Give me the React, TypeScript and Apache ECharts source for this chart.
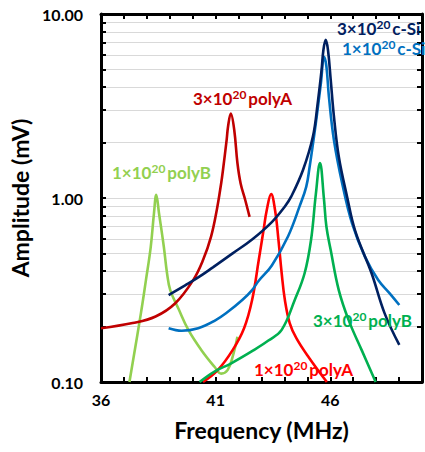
import React, { useEffect, useRef } from 'react';
import * as echarts from 'echarts';

// Axis ticks / labels
const xTickLabels = [36, 41, 46];
const yLabelValues = [0.1, 1, 10];
const yTickValues = [0.1, 0.2, 0.3, 0.4, 0.5, 0.6, 0.7, 0.8, 0.9, 1, 2, 3, 4, 5, 6, 7, 8, 9, 10];

// 1x10^20 polyB (light green)
const polyB1Freq = [37.24, 37.74, 37.96, 38.17, 38.31, 38.41, 38.53, 38.74, 38.88, 39.02, 39.38, 39.81, 40.38, 40.95, 41.24, 41.52, 41.74, 41.95];
const polyB1Amp = [0.1, 0.236, 0.358, 0.543, 0.826, 1.04, 0.826, 0.543, 0.39, 0.316, 0.25, 0.192, 0.149, 0.121, 0.111, 0.116, 0.137, 0.176];

// 3x10^20 polyA (dark red)
const polyA3Freq = [36.0, 37.38, 38.38, 39.24, 40.02, 40.45, 40.8, 41.05, 41.24, 41.32, 41.48, 41.54, 41.66, 41.81, 41.95, 42.09, 42.29, 42.48];
const polyA3Amp = [0.196, 0.209, 0.227, 0.268, 0.358, 0.46, 0.617, 0.861, 1.2, 1.42, 2.07, 2.44, 2.88, 2.35, 1.55, 1.2, 0.975, 0.79];

// 1x10^20 polyA (red)
const polyA1Freq = [40.45, 41.09, 41.74, 42.24, 42.59, 42.88, 43.09, 43.23, 43.42, 43.59, 43.74, 43.88, 44.02, 44.23, 44.52, 45.08, 45.85];
const polyA1Amp = [0.1, 0.116, 0.149, 0.196, 0.279, 0.46, 0.67, 0.861, 1.05, 0.861, 0.591, 0.39, 0.279, 0.209, 0.173, 0.135, 0.1];

// 1x10^20 c-Si (blue)
const cSi1Freq = [38.95, 39.52, 40.24, 40.95, 41.52, 42.16, 42.59, 42.88, 43.45, 44.16, 44.66, 44.95, 45.09, 45.37, 45.59, 45.73, 45.83, 45.94, 46.16, 46.52, 46.95, 47.51, 48.09, 48.59, 49.01];
const cSi1Amp = [0.196, 0.19, 0.196, 0.215, 0.24, 0.279, 0.316, 0.355, 0.43, 0.62, 0.9, 1.15, 1.45, 2.55, 4.2, 5.86, 5.2, 3.56, 2.06, 1.2, 0.728, 0.48, 0.358, 0.303, 0.262];

// 3x10^20 c-Si (navy)
const cSi3Freq = [38.95, 39.67, 40.24, 40.88, 41.74, 42.59, 43.45, 44.02, 44.3, 44.81, 45.24, 45.45, 45.62, 45.7, 45.8, 45.9, 46.02, 46.16, 46.37, 46.73, 47.09, 47.8, 48.37, 49.01];
const cSi3Amp = [0.297, 0.335, 0.37, 0.42, 0.5, 0.595, 0.74, 0.9, 1.02, 1.42, 2.15, 3.27, 4.97, 6.37, 7.23, 6.37, 4.37, 2.77, 1.68, 1.02, 0.66, 0.39, 0.236, 0.159];

// 3x10^20 polyB (green)
const polyB3Freq = [40.3, 40.95, 41.66, 42.66, 43.3, 43.88, 44.45, 44.88, 45.16, 45.37, 45.55, 45.72, 45.83, 46.02, 46.37, 46.8, 47.37, 47.98];
const polyB3Amp = [0.1, 0.114, 0.126, 0.149, 0.168, 0.192, 0.279, 0.39, 0.591, 1.05, 1.55, 1.0, 0.7, 0.52, 0.316, 0.217, 0.149, 0.1];

const FONT = 'Lato';

function zip(xs: number[], ys: number[]) {
  return xs.map((x, i) => [x, ys[i]]);
}

function label(prefix: string, suffix: string, color: string, left: number, top: number) {
  return {
    type: 'text',
    left,
    top,
    z: 10,
    style: {
      text: `{a|${prefix}}{s|20}{a|${suffix}}`,
      fill: color,
      rich: {
        a: { fontSize: 17, fontWeight: 'bold', fontFamily: FONT, fill: color, lineHeight: 20 },
        s: { fontSize: 12, fontWeight: 'bold', fontFamily: FONT, fill: color, lineHeight: 12, verticalAlign: 'top', padding: [0, 2, 0, 0] },
      },
    },
  };
}

export default function App() {
  const ref = useRef<HTMLDivElement>(null);
  useEffect(() => {
    const chart = echarts.init(ref.current!, null, { renderer: 'svg' });
    const axisTextStyle = { fontFamily: FONT, fontWeight: 'bold', fontSize: 16, color: '#000' };
    const titleStyle = { fontFamily: FONT, fontWeight: 'bold', fontSize: 23, color: '#000' };
    const mkSeries = (name: string, xs: number[], ys: number[], color: string) => ({
      name,
      type: 'line',
      data: zip(xs, ys),
      showSymbol: false,
      symbol: 'none',
      smooth: 0.4,
      lineStyle: { color, width: 2.6 },
      itemStyle: { color },
      xAxisIndex: 0,
      yAxisIndex: 0,
    });
    chart.setOption({
      animation: false,
      backgroundColor: '#fff',
      grid: { left: 101, top: 14, right: -3, bottom: 70 },
      xAxis: [
        {
          type: 'value',
          position: 'bottom',
          min: 36,
          max: 50,
          interval: 1,
          axisLine: { onZero: false, lineStyle: { color: '#000', width: 3 } },
          axisTick: { inside: true, length: 5, lineStyle: { color: '#000', width: 2 } },
          axisLabel: {
            ...axisTextStyle,
            margin: 9,
            formatter: (v: number) => (xTickLabels.includes(v) ? String(v) : ''),
          },
          splitLine: { show: false },
          name: 'Frequency (MHz)',
          nameLocation: 'middle',
          nameGap: 36,
          nameTextStyle: titleStyle,
        },
        {
          type: 'value',
          position: 'top',
          min: 36,
          max: 50,
          interval: 1,
          axisLine: { onZero: false, lineStyle: { color: '#000', width: 3 } },
          axisTick: { inside: true, length: 5, lineStyle: { color: '#000', width: 2 } },
          axisLabel: { show: false },
          splitLine: { show: false },
        },
      ],
      yAxis: [
        {
          type: 'log',
          logBase: 10,
          position: 'left',
          min: 0.1,
          max: 10,
          axisLine: { show: true, onZero: false, lineStyle: { color: '#000', width: 3 } },
          axisTick: { show: true, inside: true, length: 5, customValues: yTickValues, lineStyle: { color: '#000', width: 2 } },
          axisLabel: {
            ...axisTextStyle,
            margin: 18,
            customValues: yLabelValues,
            formatter: (v: number) => Number(v).toFixed(2),
          },
          splitLine: { show: true, lineStyle: { color: '#D9D9D9', width: 1 } },
          minorTick: { show: false },
          name: 'Amplitude (mV)',
          nameLocation: 'middle',
          nameGap: 61,
          nameRotate: 90,
          nameTextStyle: titleStyle,
        },
        {
          type: 'log',
          logBase: 10,
          position: 'right',
          min: 0.1,
          max: 10,
          axisLine: { show: true, onZero: false, lineStyle: { color: '#000', width: 3 } },
          axisTick: { show: true, inside: true, length: 5, customValues: yTickValues, lineStyle: { color: '#000', width: 2 } },
          axisLabel: { show: false },
          splitLine: { show: false },
        },
      ],
      series: [
        mkSeries('1e20 polyB', polyB1Freq, polyB1Amp, '#92D050'),
        mkSeries('3e20 polyA', polyA3Freq, polyA3Amp, '#C00000'),
        mkSeries('1e20 polyA', polyA1Freq, polyA1Amp, '#FF0000'),
        mkSeries('1e20 c-Si', cSi1Freq, cSi1Amp, '#0070C0'),
        mkSeries('3e20 c-Si', cSi3Freq, cSi3Amp, '#002060'),
        mkSeries('3e20 polyB', polyB3Freq, polyB3Amp, '#00B050'),
      ],
      graphic: [
        label('3×10', 'polyA', '#C00000', 193, 88),
        label('1×10', 'polyB', '#92D050', 112, 162),
        label('3×10', 'c-Si', '#002060', 337, 18),
        label('1×10', 'c-Si', '#0070C0', 342, 38),
        label('3×10', 'polyB', '#00B050', 313, 310),
        label('1×10', 'polyA', '#FF0000', 254, 359),
      ],
    });
    return () => chart.dispose();
  }, []);
  return <div ref={ref} style={{ position: 'fixed', left: 0, top: 0, width: 425, height: 452 }} />;
}
